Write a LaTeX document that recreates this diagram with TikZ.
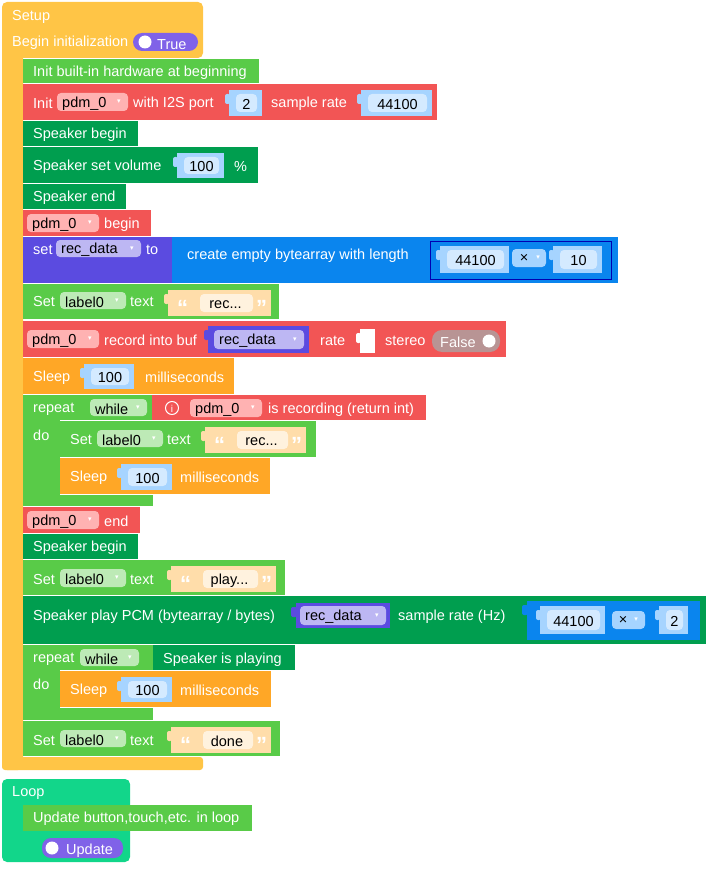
\documentclass[tikz,border=0pt]{standalone}
\usepackage{fontspec}
\setmainfont{Liberation Sans}
\newfontfamily\djv{DejaVu Sans}
\definecolor{cyel}{HTML}{FFC546}
\definecolor{cgr}{HTML}{59CB48}
\definecolor{cred}{HTML}{F25555}
\definecolor{cdg}{HTML}{009E4F}
\definecolor{cpur}{HTML}{5B4BE0}
\definecolor{cblu}{HTML}{0A85EE}
\definecolor{cor}{HTML}{FFA726}
\definecolor{cloop}{HTML}{12D68A}
\definecolor{cval}{HTML}{A6D4FF}
\definecolor{cvali}{HTML}{D4EAFF}
\definecolor{cstr}{HTML}{FFDDAA}
\definecolor{cstri}{HTML}{FFF2DE}
\definecolor{ctog}{HTML}{8062E8}
\tikzset{
 tx/.style={anchor=west,text=white,inner sep=0pt,yshift=-1.5pt,font=\fontsize{14.5}{15}\selectfont},
 bx/.style={text=black,inner sep=0pt,yshift=-0.5pt,font=\fontsize{14.5}{15}\selectfont},
}
\newcommand\blk[5]{\fill[#5] (#1,#2) rectangle (#3,#4);}
\newcommand\dd[6]{\fill[#5,rounded corners=4pt] (#1,#2) rectangle (#3,#4);
 \node[bx,anchor=west] at ([xshift=5pt]#1,{(#2+#4)/2+1}) {#6};
 \node[inner sep=0pt,text=white,font=\djv\fontsize{7}{8}\selectfont] at ([xshift=-9pt]#3,{(#2+#4)/2}) {▾};}
\newcommand\val[5]{\fill[cval] (#1,#2) rectangle (#3,#4);
 \fill[cval,rounded corners=2pt] ([xshift=-4pt]#1,{#2+4}) rectangle ([xshift=1pt]#1,{#2+14});
 \fill[cvali,rounded corners=4pt] ([xshift=7pt]#1,{#2+4}) rectangle ([xshift=-5pt]#3,{#4-4});
 \node[bx] at ({(#1+#3)/2+1},{(#2+#4)/2+1}) {#5};}
\newcommand\str[5]{\fill[cstr] (#1,#2) rectangle (#3,#4);
 \fill[cstr,rounded corners=2pt] ([xshift=-4pt]#1,{#2+4}) rectangle ([xshift=1pt]#1,{#2+14});
 \fill[cstri,rounded corners=4pt] ([xshift=32pt]#1,{#2+4}) rectangle ([xshift=-18pt]#3,{#4-4});
 \node[tx,font=\fontsize{22}{22}\bfseries\selectfont] at ([xshift=9pt]#1,{(#2+#4)/2+3}) {“};
 \node[tx,font=\fontsize{22}{22}\bfseries\selectfont] at ([xshift=-15pt]#3,{(#2+#4)/2+3}) {”};
 \node[bx] at ({(#1+#3)/2+6},{(#2+#4)/2+1}) {#5};}
\begin{document}
\begin{tikzpicture}[x=1pt,y=-1pt]
\useasboundingbox (0,0) rectangle (712,869);
% Setup hat
\fill[cyel,rounded corners=5pt] (2,2) rectangle (203,58);
\fill[cyel,rounded corners=5pt] (2,40) rectangle (23,770);
\fill[cyel,rounded corners=3pt] (2,757) rectangle (203,770);
\node[tx] (setup) at (12,15) {Setup};
\node[tx] (begin) at (12,41) {Begin initialization};
\fill[ctog,rounded corners=9pt] (133,33) rectangle (198,51);
\fill[white] (145,42) circle (6.5);
\node[tx] at (157,43) {True};
% 1
\blk{23}{59}{259}{83}{cgr}
\node[tx] (b1) at (33,71) {Init built-in hardware at beginning};
% 2
\blk{23}{84}{437}{120}{cred}
\node[tx] at (33,102) {Init};
\dd{57}{93}{128}{111}{red!30!white}{pdm\_0}
\node[tx] at (133,102) {with I2S port};
\val{229}{90}{262}{116}{2}
\node[tx] at (271,102) {sample rate};
\val{361}{90}{432}{116}{44100}
% 3
\blk{23}{121}{138}{146}{cdg}
\node[tx] at (33,133) {Speaker begin};
% 4
\blk{23}{147}{258}{183}{cdg}
\node[tx] at (33,165) {Speaker set volume};
\val{177}{153}{224}{178}{100}
\node[tx] at (234,165) {\%};
% 5
\blk{23}{184}{126}{209}{cdg}
\node[tx] at (33,196) {Speaker end};
% 6
\blk{23}{210}{151}{236}{cred}
\dd{27}{214}{99}{232}{red!30!white}{pdm\_0}
\node[tx] at (104,223) {begin};
% 7
\blk{23}{237}{177}{283}{cpur}
\node[tx] at (33,248) {set};
\dd{56}{240}{141}{257}{cpur!40!white}{rec\_data}
\node[tx] at (146,248) {to};
\blk{172}{237}{618}{283}{cblu}
\node[tx] at (187,254) {create empty bytearray with length};
\draw[blue!70!black,fill=cblu] (430,241) rectangle (611,279);
\val{440}{246}{509}{273}{44100}
\fill[cval,rounded corners=4pt] (512,249) rectangle (546,267);
\node[bx] at (524,258) {×}; \node[inner sep=0pt,text=white,font=\djv\fontsize{7}{8}\selectfont] at (538,258) {▾};
\val{553}{246}{602}{273}{10}
% 8
\blk{23}{284}{279}{319}{cgr}
\node[tx] at (33,300) {Set};
\dd{60}{292}{126}{309}{cgr!40!white}{label0}
\node[tx] at (130,300) {text};
\str{168}{290}{271}{316}{rec...}
% 9
\blk{23}{321}{506}{357}{cred}
\dd{27}{330}{99}{348}{red!30!white}{pdm\_0}
\node[tx] at (104,339) {record into buf};
\fill[cpur] (208,326) rectangle (309,353);
\fill[cpur,rounded corners=2pt] (204,330) rectangle (209,340);
\dd{214}{330}{304}{349}{cpur!40!white}{rec\_data}
\node[tx] at (320,339) {rate};
\fill[white] (360,329) rectangle (375,353);
\fill[white,rounded corners=2pt] (356,333) rectangle (361,343);
\node[tx] at (385,339) {stereo};
\fill[gray!80!red!70!white,rounded corners=10pt] (432,330) rectangle (500,352);
\node[tx] at (440,341) {False};
\fill[white] (489,341) circle (6.5);
% 10
\blk{23}{358}{234}{394}{cor}
\node[tx] at (33,376) {Sleep};
\val{84}{364}{134}{389}{100}
\node[tx] at (145,376) {milliseconds};
% 11 repeat
\blk{23}{395}{153}{420}{cgr}
\blk{23}{395}{60}{506}{cgr}
\blk{23}{495}{153}{506}{cgr}
\node[tx] at (33,408) {repeat};
\dd{90}{399}{147}{416}{cgr!40!white}{while}
\node[tx] at (33,434) {do};
\blk{152}{395}{426}{420}{cred}
\draw[white,line width=1pt] (172,408) circle (6.5);
\node[tx,font=\fontsize{10}{10}\selectfont,anchor=center,yshift=1.5pt] at (172,408.5) {i};
\dd{190}{399}{262}{417}{red!30!white}{pdm\_0}
\node[tx] at (268,408) {is recording (return int)};
\blk{60}{421}{316}{457}{cgr}
\node[tx] at (70,438) {Set};
\dd{97}{430}{163}{447}{cgr!40!white}{label0}
\node[tx] at (167,438) {text};
\str{205}{427}{306}{453}{rec...}
\blk{60}{458}{270}{494}{cor}
\node[tx] at (70,476) {Sleep};
\val{121}{464}{172}{490}{100}
\node[tx] at (180,476) {milliseconds};
% 12
\blk{23}{507}{140}{533}{cred}
\dd{27}{511}{99}{529}{red!30!white}{pdm\_0}
\node[tx] at (104,520) {end};
% 13
\blk{23}{534}{138}{559}{cdg}
\node[tx] at (33,546) {Speaker begin};
% 14
\blk{23}{560}{285}{595}{cgr}
\node[tx] at (33,578) {Set};
\dd{60}{569}{126}{587}{cgr!40!white}{label0}
\node[tx] at (130,578) {text};
\str{171}{566}{276}{592}{play...}
% 15
\blk{23}{596}{706}{644}{cdg}
\node[tx] at (33,615) {Speaker play PCM (bytearray / bytes)};
\fill[cpur] (296,603) rectangle (390,628);
\fill[cpur,rounded corners=2pt] (291,607) rectangle (297,617);
\dd{300}{606}{386}{625}{cpur!40!white}{rec\_data}
\node[tx] at (398,615) {sample rate (Hz)};
\fill[cblu] (527,601) rectangle (700,640);
\fill[cblu,rounded corners=2pt] (522,605) rectangle (528,615);
\val{540}{606}{605}{634}{44100}
\fill[cval,rounded corners=4pt] (612,611) rectangle (645,629);
\node[bx] at (623,620) {×}; \node[inner sep=0pt,text=white,font=\djv\fontsize{7}{8}\selectfont] at (636,620) {▾};
\val{659}{606}{688}{634}{2}
% 16 repeat
\blk{23}{645}{153}{670}{cgr}
\blk{23}{645}{60}{720}{cgr}
\blk{23}{708}{153}{720}{cgr}
\node[tx] at (33,658) {repeat};
\dd{80}{649}{139}{666}{cgr!40!white}{while}
\node[tx] at (33,683) {do};
\blk{153}{645}{295}{670}{cdg}
\node[tx] at (163,658) {Speaker is playing};
\blk{60}{671}{271}{707}{cor}
\node[tx] at (70,689) {Sleep};
\val{121}{677}{172}{702}{100}
\node[tx] at (180,689) {milliseconds};
% 17
\blk{23}{721}{280}{756}{cgr}
\node[tx] at (33,739) {Set};
\dd{60}{730}{126}{747}{cgr!40!white}{label0}
\node[tx] at (130,739) {text};
\str{171}{727}{271}{753}{done}
% Loop
\fill[cloop,rounded corners=5pt] (2,779) rectangle (130,862);
\node[tx] (loop) at (12,792) {Loop};
\blk{23}{805}{252}{831}{cgr}
\node[tx] at (33,817) {Update button,touch,etc. in loop};
\fill[ctog,rounded corners=9pt] (42,838) rectangle (123,858);
\fill[white] (52,848) circle (6.5);
\node[tx] at (66,849) {Update};
\end{tikzpicture}
\end{document}
